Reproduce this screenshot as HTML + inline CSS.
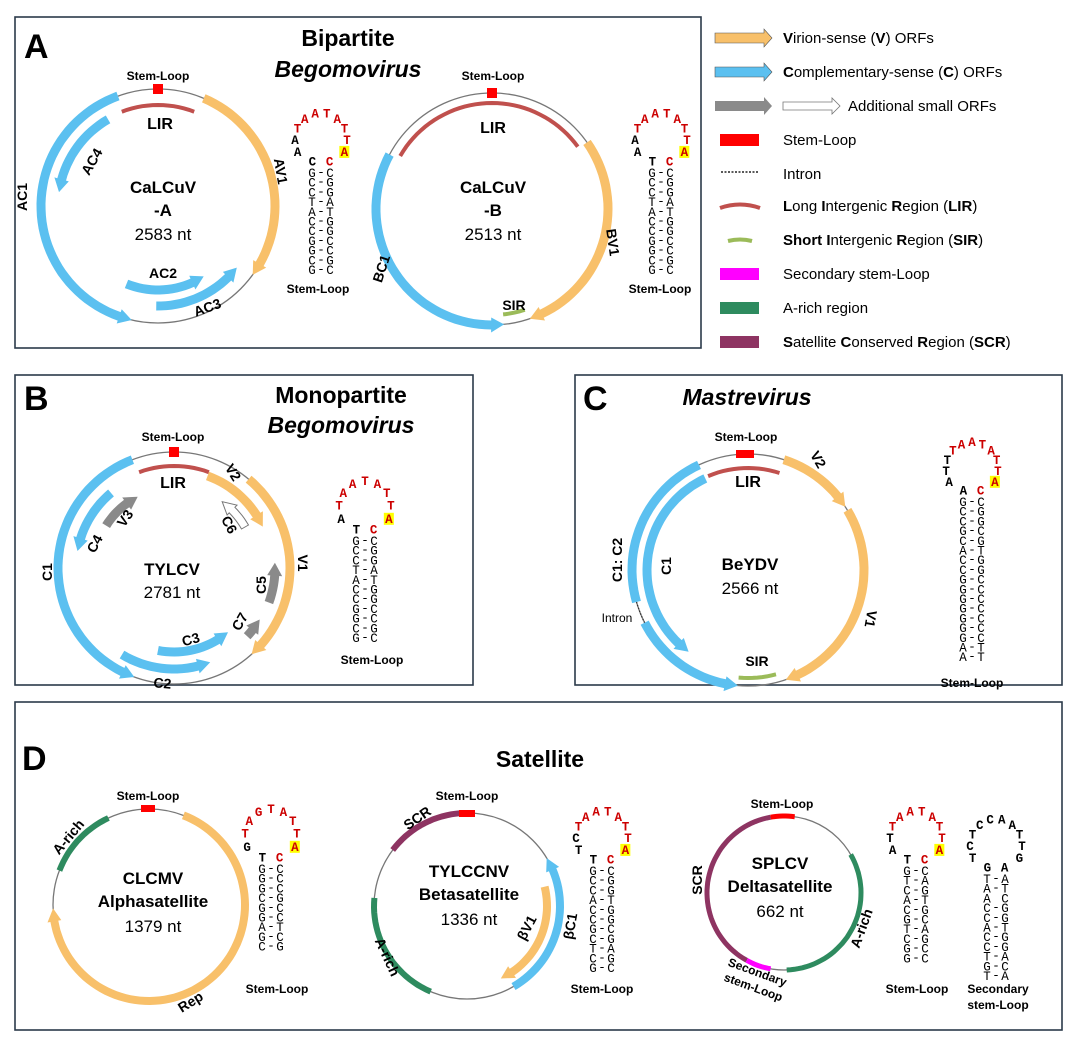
<!DOCTYPE html>
<html><head><meta charset="utf-8"><style>
body{margin:0;background:#fff;}
svg text{font-family:"Liberation Sans",sans-serif;}
svg text.mono{font-family:"Liberation Mono","DejaVu Sans Mono",monospace;}
.b{font-weight:bold}
.lab{font-weight:bold;font-size:14px;text-anchor:middle}
.sl{font-weight:bold;font-size:12px;text-anchor:middle}
.nm{font-weight:bold;font-size:17px;text-anchor:middle}
.nt{font-size:17px;text-anchor:middle}
.lg{font-size:15px}
</style></head><body>
<svg id="s" width="1075" height="1045" viewBox="0 0 1075 1045" xmlns="http://www.w3.org/2000/svg">
<rect width="1075" height="1045" fill="#fff"/>
<g fill="none" stroke="#2b3a4a" stroke-width="1.6">
<rect x="15" y="17" width="686" height="331"/>
<rect x="15" y="375" width="458" height="310"/>
<rect x="575" y="375" width="487" height="310"/>
<rect x="15" y="702" width="1047" height="328"/>
</g>
<g id="shapes"></g>
<!-- Panel titles -->
<text x="24" y="58" class="b" font-size="34">A</text>
<text x="348" y="46" class="b" font-size="23" text-anchor="middle">Bipartite</text>
<text x="348" y="77" class="b" font-size="23" text-anchor="middle" font-style="italic">Begomovirus</text>
<text x="24" y="410" class="b" font-size="34">B</text>
<text x="341" y="403" class="b" font-size="23" text-anchor="middle">Monopartite</text>
<text x="341" y="433" class="b" font-size="23" text-anchor="middle" font-style="italic">Begomovirus</text>
<text x="583" y="410" class="b" font-size="34">C</text>
<text x="747" y="405" class="b" font-size="23" text-anchor="middle" font-style="italic">Mastrevirus</text>
<text x="22" y="770" class="b" font-size="34">D</text>
<text x="540" y="767" class="b" font-size="23" text-anchor="middle">Satellite</text>

<!-- A1 -->
<text x="158" y="80" class="sl">Stem-Loop</text>
<text x="160" y="129" class="b" font-size="16" text-anchor="middle">LIR</text>
<text x="163" y="193" class="nm">CaLCuV</text>
<text x="163" y="216" class="nm">-A</text>
<text x="163" y="240" class="nt">2583 nt</text>
<text class="lab" transform="translate(27,197) rotate(-90)">AC1</text>
<text class="lab" transform="translate(96,164) rotate(-60)">AC4</text>
<text class="lab" transform="translate(276,172) rotate(80)">AV1</text>
<text class="lab" x="163" y="278">AC2</text>
<text class="lab" transform="translate(209,312) rotate(-20)">AC3</text>
<text x="318" y="293" class="sl">Stem-Loop</text>
<!-- A2 -->
<text x="493" y="80" class="sl">Stem-Loop</text>
<text x="493" y="133" class="b" font-size="16" text-anchor="middle">LIR</text>
<text x="493" y="193" class="nm">CaLCuV</text>
<text x="493" y="216" class="nm">-B</text>
<text x="493" y="240" class="nt">2513 nt</text>
<text class="lab" transform="translate(386,270) rotate(-72)">BC1</text>
<text class="lab" transform="translate(608,243) rotate(82)">BV1</text>
<text class="lab" x="514" y="310">SIR</text>
<text x="660" y="293" class="sl">Stem-Loop</text>

<!-- B -->
<text x="173" y="441" class="sl">Stem-Loop</text>
<text x="173" y="488" class="b" font-size="16" text-anchor="middle">LIR</text>
<text x="172" y="575" class="nm">TYLCV</text>
<text x="172" y="598" class="nt">2781 nt</text>
<text class="lab" transform="translate(52,572) rotate(-90)">C1</text>
<text class="lab" transform="translate(99,546) rotate(-62)">C4</text>
<text class="lab" transform="translate(129,521) rotate(-55)">V3</text>
<text class="lab" transform="translate(229,475) rotate(58)">V2</text>
<text class="lab" transform="translate(225,527) rotate(62)">C6</text>
<text class="lab" transform="translate(298,563) rotate(90)">V1</text>
<text class="lab" transform="translate(266,585) rotate(-90)">C5</text>
<text class="lab" transform="translate(244,624) rotate(-60)">C7</text>
<text class="lab" transform="translate(192,644) rotate(-15)">C3</text>
<text class="lab" transform="translate(162,688) rotate(5)">C2</text>
<text x="372" y="664" class="sl">Stem-Loop</text>

<!-- C -->
<text x="746" y="441" class="sl">Stem-Loop</text>
<text x="748" y="487" class="b" font-size="16" text-anchor="middle">LIR</text>
<text x="750" y="570" class="nm">BeYDV</text>
<text x="750" y="594" class="nt">2566 nt</text>
<text class="lab" transform="translate(622,560) rotate(-90)">C1:  C2</text>
<text class="lab" transform="translate(671,566) rotate(-90)">C1</text>
<text class="lab" transform="translate(814,462) rotate(60)">V2</text>
<text class="lab" transform="translate(866,618) rotate(100)">V1</text>
<text class="lab" x="757" y="666" font-size="15">SIR</text>
<text x="617" y="622" font-size="12" text-anchor="middle">Intron</text>
<text x="972" y="687" class="sl">Stem-Loop</text>

<!-- D -->
<text x="148" y="800" class="sl">Stem-Loop</text>
<text class="lab" transform="translate(72,840) rotate(-50)">A-rich</text>
<text class="lab" transform="translate(193,1006) rotate(-32)">Rep</text>
<text x="153" y="884" class="nm">CLCMV</text>
<text x="153" y="907" class="nm">Alphasatellite</text>
<text x="153" y="932" class="nt">1379 nt</text>
<text x="277" y="993" class="sl">Stem-Loop</text>

<text x="467" y="800" class="sl">Stem-Loop</text>
<text class="lab" transform="translate(420,822) rotate(-35)">SCR</text>
<text class="lab" transform="translate(383,959) rotate(65)">A-rich</text>
<text class="lab" transform="translate(531,930) rotate(-62)">βV1</text>
<text class="lab" transform="translate(575,927) rotate(-80)">βC1</text>
<text x="469" y="877" class="nm">TYLCCNV</text>
<text x="469" y="900" class="nm">Betasatellite</text>
<text x="469" y="925" class="nt">1336 nt</text>
<text x="602" y="993" class="sl">Stem-Loop</text>

<text x="782" y="808" class="sl">Stem-Loop</text>
<text class="lab" transform="translate(702,880) rotate(-90)">SCR</text>
<text class="lab" transform="translate(866,930) rotate(-70)">A-rich</text>
<text class="sl" transform="translate(756,976) rotate(20)">Secondary</text>
<text class="sl" transform="translate(752,991) rotate(20)">stem-Loop</text>
<text x="780" y="869" class="nm">SPLCV</text>
<text x="780" y="892" class="nm">Deltasatellite</text>
<text x="780" y="917" class="nt">662 nt</text>
<text x="917" y="993" class="sl">Stem-Loop</text>
<text x="998" y="993" class="sl">Secondary</text>
<text x="998" y="1009" class="sl">stem-Loop</text>

<!-- Legend -->
<g class="lg">
<text x="783" y="43"><tspan class="b">V</tspan>irion-sense (<tspan class="b">V</tspan>) ORFs</text>
<text x="783" y="77"><tspan class="b">C</tspan>omplementary-sense (<tspan class="b">C</tspan>) ORFs</text>
<text x="848" y="111">Additional small ORFs</text>
<text x="783" y="145">Stem-Loop</text>
<text x="783" y="179">Intron</text>
<text x="783" y="211"><tspan class="b">L</tspan>ong <tspan class="b">I</tspan>ntergenic <tspan class="b">R</tspan>egion (<tspan class="b">LIR</tspan>)</text>
<text x="783" y="245"><tspan class="b">Short I</tspan>ntergenic <tspan class="b">R</tspan>egion (<tspan class="b">SIR</tspan>)</text>
<text x="783" y="279">Secondary stem-Loop</text>
<text x="783" y="313">A-rich region</text>
<text x="783" y="347"><tspan class="b">S</tspan>atellite <tspan class="b">C</tspan>onserved <tspan class="b">R</tspan>egion (<tspan class="b">SCR</tspan>)</text>
</g>
<g>
<polygon points="715,33 764,33 764,29 772,38 764,47 764,43 715,43" fill="#F8C06A" stroke="#555" stroke-width="0.6"/>
<polygon points="715,67 764,67 764,63 772,72 764,81 764,77 715,77" fill="#5BC0F0" stroke="#555" stroke-width="0.6"/>
<polygon points="715,101 764,101 764,97 772,106 764,115 764,111 715,111" fill="#8a8a8a"/>
<polygon points="783,102 832,102 832,98 840,106 832,114 832,110 783,110" fill="#fff" stroke="#777" stroke-width="0.8"/>
<rect x="720" y="134" width="39" height="12" fill="#f00"/>
<line x1="721" y1="172" x2="759" y2="172" stroke="#222" stroke-width="1.5" stroke-dasharray="2,1.5"/>
<path d="M720,208 Q740,201 760,208" fill="none" stroke="#C0504D" stroke-width="4"/>
<path d="M728,241 Q740,238 752,241" fill="none" stroke="#9BBB59" stroke-width="4"/>
<rect x="720" y="268" width="39" height="12" fill="#f0f"/>
<rect x="720" y="302" width="39" height="12" fill="#2E8B5F"/>
<rect x="720" y="336" width="39" height="12" fill="#8E3462"/>
</g>
<g id="loops"></g>
</svg>
<script>
var NS="http://www.w3.org/2000/svg",G=document.getElementById("shapes"),L=document.getElementById("loops");
function el(p,t,a){var e=document.createElementNS(NS,t);for(var k in a)e.setAttribute(k,a[k]);p.appendChild(e);return e;}
function P(cx,cy,r,a){a=a*Math.PI/180;return [cx+r*Math.sin(a),cy-r*Math.cos(a)];}
function arcPath(cx,cy,r,a0,a1){var n=Math.max(8,Math.ceil(Math.abs(a1-a0)/3)),d="";for(var i=0;i<=n;i++){var p=P(cx,cy,r,a0+(a1-a0)*i/n);d+=(i?"L":"M")+p[0].toFixed(1)+","+p[1].toFixed(1);}return d;}
function circ(cx,cy,r){el(G,"circle",{cx:cx,cy:cy,r:r,fill:"none",stroke:"#777","stroke-width":1.3});}
function band(cx,cy,r,a0,a1,col,w){el(G,"path",{d:arcPath(cx,cy,r,a0,a1),fill:"none",stroke:col,"stroke-width":w});}
function arr(cx,cy,r,a0,a1,col,w,stroke){w=w||9;var dir=a1>a0?1:-1,hd=13/r*180/Math.PI,ab=a1-dir*hd;
 var hw=w/2,n=Math.max(6,Math.ceil(Math.abs(ab-a0)/3)),pts=[];
 for(var i=0;i<=n;i++)pts.push(P(cx,cy,r+hw,a0+(ab-a0)*i/n));
 pts.push(P(cx,cy,r+hw+3,ab));pts.push(P(cx,cy,r,a1));pts.push(P(cx,cy,r-hw-3,ab));
 for(var i=n;i>=0;i--)pts.push(P(cx,cy,r-hw,a0+(ab-a0)*i/n));
 el(G,"polygon",{points:pts.map(function(p){return p[0].toFixed(1)+","+p[1].toFixed(1)}).join(" "),fill:col,stroke:stroke||"none","stroke-width":stroke?1:0});}
function sq(x,y,w,h){el(G,"rect",{x:x,y:y,width:w,height:h,fill:"#f00"});}
var OR="#F8C06A",BL="#5BC0F0",GR="#8a8a8a",LIR="#C0504D",SIR="#9BBB59",AR="#2E8B5F",SCR="#8E3462",MG="#f0f";
// A1
circ(158,206,117);band(158,206,101,-21,21,LIR,4);
arr(158,206,117,23,126,OR);arr(158,206,117,-20,-167,BL);arr(158,206,100,-30,-82,BL);
arr(158,206,84,202,147,BL);arr(158,206,100,181,128,BL);sq(153,84,10,10);
// A2
circ(492,209,116);band(492,209,106,-60,54,LIR,4);
arr(492,209,116,55,161,OR);arr(492,209,116,-62,-186,BL);band(492,209,106,162,174,SIR,4);sq(487,88,10,10);
// B
circ(174,568,116);band(174,568,102,-20,20,LIR,4);sq(169,447,10,10);
arr(174,568,116,-21,-160,BL);arr(174,568,98,-40,-80,BL);arr(174,568,80,-58,-27,GR);
arr(174,568,98,20,65,OR);arr(174,568,116,40,138,OR);arr(174,568,82,60,36,"#fff",8,"#777");
arr(174,568,101,110,87,GR);arr(174,568,100,133,121,GR);arr(174,568,84,191,140,BL);arr(174,568,101,211,159,BL);
// C
circ(748,570,116);band(748,570,102,-23,18,LIR,4);sq(736,450,18,8);
arr(748,570,116,18,57,OR);arr(748,570,116,59,161,OR);
band(748,570,116,-25,-106,BL,9);
el(G,"path",{d:arcPath(748,570,116,-106,-117),fill:"none",stroke:"#333","stroke-width":1.2,"stroke-dasharray":"1.5,1.5"});
arr(748,570,116,-117,-175,BL);arr(748,570,101,-25,-144,BL);band(748,570,108,165,185,SIR,4);
// D1
circ(149,905,96);band(149,905,96,-69,-25,AR,6);arr(149,905,96,21,268,OR,8);sq(141,805,14,7);
// D2
circ(467,906,93);band(467,906,93,-53,-4,SCR,6);band(467,906,93,-85,-157,AR,6);sq(459,810,16,7);
arr(467,906,93,150,59,BL,8);arr(467,906,80,76,155,OR,8);
// D3
circ(784,893,77);band(784,893,77,-10,-151,SCR,5);band(784,893,77,-151,-170,MG,5);band(784,893,77,-182,-300,AR,5);band(784,893,77,-10,8,"#f00",5);
// stem loops
function T(x,y,s,extra){var a={x:x,y:y,"class":"mono","text-anchor":"middle",style:"font-family:'Liberation Mono',monospace;font-size:12.5px;"+(extra||"")};return el(L,"text",a);}
function SL(x0,y0,rows,loop){var st=9.7;
 rows.forEach(function(r,i){var y=y0+i*st;
  if(r[0]!=" ")T(x0,y).textContent=r[0];
  if(r[1]!=" ")T(x0+9,y-1).textContent=r[1];
  if(r[2]!=" ")T(x0+18,y).textContent=r[2];});
 var cx=x0+9,cy=y0-37,n=loop.length;
 for(var i=0;i<n;i++){var a=(232-284*i/(n-1))*Math.PI/180,rx=(i==0||i==n-1)?14:26,x=cx+Math.cos(a)*rx,y=cy-Math.sin(a)*27+4;
  var c=loop[i];if(c[2])el(L,"rect",{x:x-5,y:y-10,width:10,height:12,fill:"#ff0"});
  T(x,y,null,"font-weight:bold;fill:"+c[1]).textContent=c[0];}}
function mk(black,red){var o=[];black.split("").forEach(function(c){o.push([c,"#000"])});red.split("").forEach(function(c){o.push([c,"#c00"])});o.push(["A","#c00",1]);o.push(["C","#c00"]);return o;}
SL(312,177,["G-C","C-G","C-G","T-A","A-T","C-G","C-G","G-C","G-C","C-G","G-C"],mk("CAA","TAATATT"));
SL(652,177,["G-C","C-G","C-G","T-A","A-T","C-G","C-G","G-C","G-C","C-G","G-C"],mk("TAA","TAATATT"));
SL(356,545,["G-C","C-G","C-G","T-A","A-T","C-G","C-G","G-C","G-C","C-G","G-C"],mk("TA","TAATATT"));
SL(963,506,["G-C","C-G","C-G","G-C","C-G","A-T","C-G","C-G","G-C","G-C","G-C","G-C","G-C","G-C","G-C","A-T","A-T"],mk("AATT","TAATATT"));
SL(262,873,["G-C","G-C","G-C","C-G","G-C","G-C","A-T","G-C","C-G"],mk("TG","TAGTATT"));
SL(593,875,["G-C","C-G","C-G","A-T","C-G","C-G","G-C","C-G","T-A","C-G","G-C"],mk("TTC","TAATATT"));
SL(907,875,["G-C","T-A","C-G","A-T","C-G","G-C","T-A","C-G","G-C","G-C"],mk("TAT","TAATATT"));
(function(){var o=[];"GTCTCCAATTGA".split("").forEach(function(c){o.push([c,"#000"])});
SL(987,883,["T-A","A-T","A C","C-G","C-G","A-T","C-G","C-G","T-A","G-C","T-A"],o);})();
</script>
</body></html>
